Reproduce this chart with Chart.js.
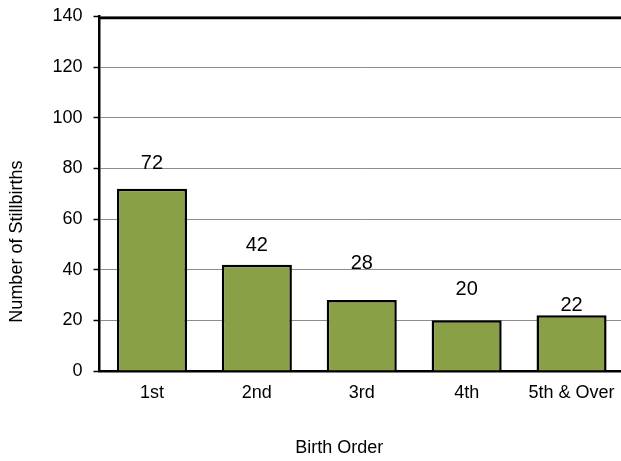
<!DOCTYPE html>
<html>
<head>
<meta charset="utf-8">
<script src="https://cdn.jsdelivr.net/npm/chart.js@4/dist/chart.umd.min.js"></script>
<style>
  html, body { margin: 0; padding: 0; background: #fff; overflow: hidden; }
  #wrap { width: 624px; height: 461px; position: relative; }
</style>
</head>
<body>
<div id="wrap"><canvas id="c"></canvas></div>
<script>
const categories = ["1st", "2nd", "3rd", "4th", "5th & Over"];
const stillbirths = [72, 42, 28, 20, 22];
const labelAt = [82, 49.5, 42.3, 32.2, 25.7];
const yTicks = [0, 20, 40, 60, 80, 100, 120, 140];
const xTitle = "Birth Order";
const yTitle = "Number of Stillbirths";

const FONT = "'Liberation Sans', Arial, sans-serif";

const decorations = {
  id: 'decorations',
  afterDatasetsDraw(chart) {
    const ctx = chart.ctx;
    const meta = chart.getDatasetMeta(0);
    const ys = chart.scales.y;
    const area = chart.chartArea;
    ctx.save();
    // top frame line
    ctx.strokeStyle = '#000';
    ctx.lineWidth = 2.5;
    ctx.beginPath();
    ctx.moveTo(area.left - 1, area.top + 1.5);
    ctx.lineTo(area.right, area.top + 1.5);
    ctx.stroke();
    // value labels
    ctx.fillStyle = '#000';
    ctx.font = '20px ' + FONT;
    ctx.textAlign = 'center';
    ctx.textBaseline = 'middle';
    meta.data.forEach((bar, i) => {
      ctx.fillText(String(stillbirths[i]), bar.x, ys.getPixelForValue(labelAt[i]));
    });
    // axis titles
    ctx.font = '18px ' + FONT;
    ctx.fillText(xTitle, area.left + area.width * 0.457, chart.height - 13);
    ctx.translate(17, area.top + area.height * 0.635);
    ctx.rotate(-Math.PI / 2);
    ctx.fillText(yTitle, 0, 0);
    ctx.restore();
  }
};

new Chart(document.getElementById('c'), {
  type: 'bar',
  data: {
    labels: categories,
    datasets: [{
      data: stillbirths,
      backgroundColor: '#8aa046',
      borderColor: '#000',
      borderWidth: 2.5,
      barPercentage: 0.668,
      categoryPercentage: 1.0
    }]
  },
  options: {
    responsive: true,
    maintainAspectRatio: false,
    animation: false,
    layout: { padding: { top: 16.5, right: 0, left: 0, bottom: 0 } },
    plugins: { legend: { display: false }, tooltip: { enabled: false } },
    scales: {
      x: {
        afterFit(s) { s.height = 90; s.paddingLeft = 0; s.paddingRight = 0; },
        grid: { display: false, drawTicks: false },
        border: { display: true, color: '#000', width: 2.5 },
        ticks: { color: '#000', font: { family: FONT, size: 18 }, padding: 11, maxRotation: 0 }
      },
      y: {
        min: 0, max: 140,
        afterFit(s) { s.width = 99.5; s.paddingTop = 0; s.paddingBottom = 0; },
        afterBuildTicks(s) { s.ticks = yTicks.map(v => ({ value: v })); },
        grid: { color: '#8c8c8c', lineWidth: 1, tickLength: 6, tickColor: '#000', tickWidth: 1.5 },
        border: { display: true, color: '#000', width: 2.5 },
        ticks: { color: '#000', font: { family: FONT, size: 18 }, padding: 11, stepSize: 20 }
      }
    }
  },
  plugins: [decorations]
});
</script>
</body>
</html>
